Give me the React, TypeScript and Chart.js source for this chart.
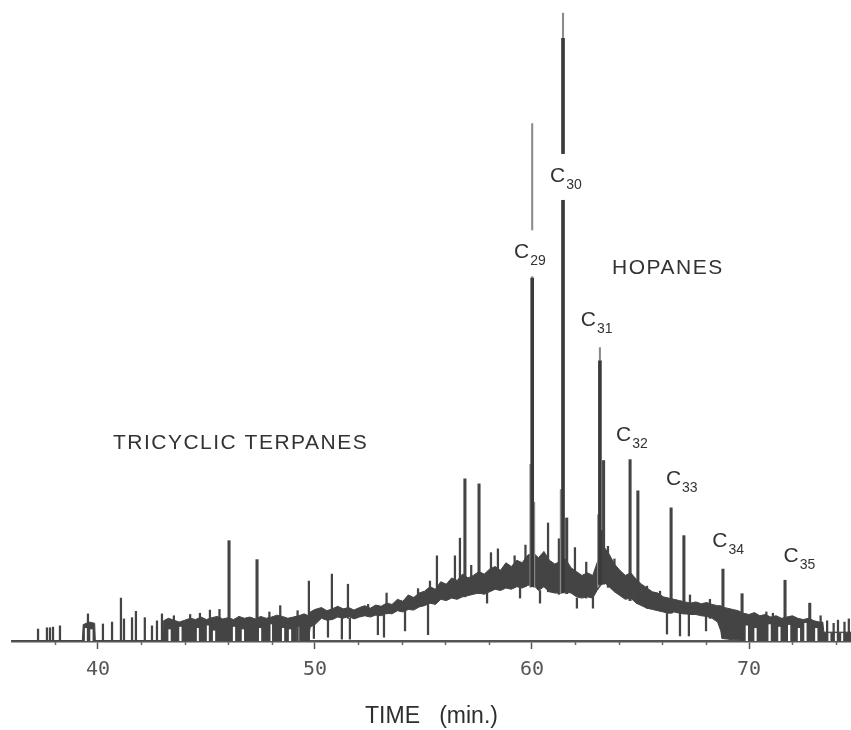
import React, { useEffect, useRef } from 'react';
import { Chart, registerables } from 'chart.js';

Chart.register(...registerables);

// ---------- data ----------
const timeMin = 36.04;
const timeMax = 74.7;

// noise band envelope (time in min, relative response 0..100)
const envTime = [36.0, 39.28, 39.32, 39.6, 39.85, 39.88, 42.98,
  43.02, 43.25, 43.5, 43.75, 44.0, 44.25, 44.5, 44.75, 45.0, 45.25, 45.5, 45.75, 46.0, 46.25, 46.5, 46.75, 47.0, 47.25, 47.5, 47.75, 48.0, 48.25, 48.5, 48.75, 49.0, 49.25, 49.5, 49.7,
  49.78, 50.0, 50.3, 50.55, 50.8, 51.05, 51.3, 51.55, 51.8, 52.05, 52.3, 52.55, 52.8, 53.05, 53.3, 53.55, 53.8, 54.05, 54.3, 54.55, 54.8, 55.05, 55.3, 55.55, 55.8, 56.05, 56.3, 56.55, 56.8, 57.05, 57.3, 57.55, 57.8, 58.05, 58.3, 58.55, 58.8, 59.05, 59.3, 59.55, 59.8, 60.05, 60.3, 60.55, 60.8, 61.05, 61.3, 61.55, 61.8, 62.05, 62.3, 62.55, 62.8, 63.0, 63.3, 63.55, 63.8, 64.05, 64.3, 64.55, 64.8, 65.05, 65.3, 65.55, 65.8, 66.05, 66.3, 66.55, 66.8, 67.05, 67.3, 67.55, 67.8, 68.05, 68.3, 68.55, 68.7, 68.75,
  69.0, 69.25, 69.5, 69.75, 70.0, 70.25, 70.5, 70.75, 71.0, 71.25, 71.5, 71.75, 72.0, 72.25, 72.5, 72.75, 73.0, 73.25, 73.4, 73.45, 74.7];
const envUpper = [0, 0, 2.6, 3.0, 2.8, 0, 0,
  3.2, 3.6, 3.3, 3.0, 3.3, 3.6, 3.4, 3.8, 3.4, 3.7, 3.9, 3.5, 3.7, 3.4, 3.9, 3.6, 3.8, 3.5, 3.9, 3.6, 3.8, 4.1, 3.9, 3.6, 3.8, 4.0, 4.3, 4.0,
  4.6, 5.0, 5.3, 4.8, 5.1, 5.5, 5.1, 5.3, 4.9, 5.3, 5.6, 5.2, 5.7, 5.5, 6.0, 5.8, 6.6, 6.3, 7.3, 6.9, 7.6, 7.9, 8.6, 8.2, 9.4, 9.0, 10.0, 9.6, 10.6, 10.0, 10.4, 11.0, 10.6, 11.4, 11.8, 11.2, 12.4, 11.8, 12.8, 12.4, 13.6, 14.0, 13.2, 14.2, 12.8, 12.2, 12.6, 13.0, 11.6, 11.0, 10.4, 10.8, 10.4, 12.4, 15.0, 13.8, 12.2, 11.2, 10.4, 10.8, 9.8, 9.0, 8.4, 7.8, 7.6, 7.0, 6.8, 6.6, 6.4, 6.2, 6.0, 6.2, 5.9, 6.1, 5.8, 5.6, 5.6, 5.4,
  5.2, 5.0, 4.8, 4.4, 4.2, 4.5, 4.0, 4.2, 3.8, 4.0, 3.6, 3.8, 4.0, 3.6, 3.4, 3.6, 3.2, 3.0, 3.0, 1.4, 1.4];
const envLower = [0, 0, 0, 0, 0, 0, 0,
  0, 0, 0, 0, 0, 0, 0, 0, 0, 0, 0, 0, 0, 0, 0, 0, 0, 0, 0, 0, 0, 0, 0, 0, 0, 0, 0, 0,
  2.2, 2.6, 3.6, 3.3, 3.4, 3.8, 3.6, 3.9, 3.5, 3.8, 4.0, 3.8, 4.1, 4.0, 4.4, 4.3, 4.8, 4.6, 5.0, 4.9, 5.4, 5.6, 6.0, 5.8, 6.6, 6.4, 6.8, 6.6, 7.0, 7.2, 7.4, 7.6, 7.4, 7.8, 8.2, 8.0, 8.4, 8.2, 8.6, 8.4, 8.8, 9.0, 8.0, 8.6, 7.8, 7.6, 7.6, 7.8, 7.6, 7.0, 6.8, 7.0, 6.8, 8.0, 9.4, 8.6, 7.8, 7.2, 6.6, 6.8, 6.0, 5.6, 5.2, 5.0, 4.8, 4.6, 4.4, 4.6, 4.4, 4.3, 4.2, 4.2, 4.0, 3.9, 3.6, 3.0, 1.6, 0.4,
  0.3, 0.2, 0.2, 0, 0, 0, 0, 0, 0, 0, 0, 0, 0, 0, 0, 0, 0, 0, 0, 0, 0];

// hopane peaks: [time, foot, solid top]
const mainPeaks: number[][] = [
  [60.01, 8.6, 57.5], // C29
  [61.43, 7.6, 95.5], // C30
  [63.13, 9.0, 44.4], // C31
];
// faint (dotted) tops and shoulders: [time, from, to]
const faintPeaks: number[][] = [
  [60.01, 57.5, 82], [61.43, 95.5, 99.5], [63.13, 44.4, 46.5],
  [59.93, 8.5, 28], [60.1, 8.5, 22], [61.33, 7.5, 24], [63.05, 8.5, 20],
];
// medium peaks: [time, foot, top]
const midPeaks: number[][] = [
  [46.04, 0, 15.9], [47.33, 0, 12.9], [56.91, 7.0, 25.7], [57.56, 7.5, 24.9],
  [61.6, 7.5, 19.5], [63.2, 9.0, 17.5], [63.3, 9.0, 28.6],
  [64.52, 6.4, 29.0], [64.88, 6.0, 23.8], [66.41, 4.4, 21.1], [67.0, 4.3, 16.7],
  [68.8, 3.0, 11.4], [69.68, 0.5, 7.5], [71.66, 0, 9.7], [72.8, 0, 6.0],
];
// small spikes and dips: [time, from, to]
const smallSpikes: number[][] = [
  [37.24, 0, 1.9], [37.65, 0, 2.1], [37.79, 0, 2.1], [37.93, 0, 2.2], [38.25, 0, 2.4],
  [39.54, 0, 4.3],
  [40.23, 0, 2.7], [40.65, 0, 3.0], [41.06, 0, 6.8], [41.2, 0, 3.5], [41.57, 0, 3.7], [41.75, 0, 4.7],
  [42.16, 0, 3.7], [42.49, 0, 2.4], [42.72, 0, 3.2], [42.95, 0, 4.3],
  [43.5, 0, 4.0], [44.25, 0, 4.2], [44.7, 0, 4.4], [45.16, 0, 4.9], [45.6, 0, 5.0],
  [47.9, 0, 4.6], [48.4, 0, 5.6], [49.2, 0, 4.8], [49.72, 0, 9.5],
  [50.78, 3.4, 10.6], [51.52, 3.6, 9.0], [52.45, 3.9, 5.8], [53.3, 4.3, 7.6], [54.75, 5.4, 8.3],
  [55.3, 6.0, 9.5], [55.62, 6.2, 13.5],
  [56.45, 6.8, 13.5], [56.68, 7.0, 16.3], [57.2, 7.4, 12.0], [58.11, 8.0, 14.0], [58.43, 8.2, 14.6],
  [59.2, 8.6, 13.5], [59.7, 8.6, 15.2], [60.74, 7.8, 18.7], [61.24, 7.4, 16.2], [61.98, 7.5, 14.8],
  [62.5, 6.8, 12.5], [63.5, 8.5, 15.0], [63.8, 8.0, 13.0],
  [65.3, 5.2, 8.7], [65.9, 4.8, 7.9], [67.28, 4.2, 7.3], [68.2, 3.6, 6.6],
  [70.8, 0, 4.6], [71.1, 0, 4.4], [73.3, 0, 4.0], [73.6, 0, 3.2], [73.9, 0, 2.8], [74.1, 0, 3.3], [74.4, 0, 3.0], [74.6, 0, 3.5],
  // dips below the band
  [49.95, 0.4, 3.0], [50.6, 0.6, 3.6], [51.24, 0.3, 3.7], [51.61, 0.3, 3.6], [52.9, 1.0, 4.0],
  [53.18, 0.6, 4.3], [54.15, 1.6, 5.0], [55.21, 1.0, 6.0], [57.93, 6.0, 7.6], [59.45, 6.8, 8.6],
  [60.37, 6.0, 8.0], [62.07, 5.2, 6.8], [62.81, 5.2, 7.0], [66.22, 1.1, 4.4], [66.82, 0.8, 4.4],
  [67.23, 0.8, 4.2], [68.02, 1.6, 4.0], [68.99, 0.5, 3.0],
];
// blank stripes inside the dense low band: [time, from, to]
const bandGaps: number[][] = [
  [39.45, 0, 2.0], [39.7, 0, 1.8],
  [43.3, 0, 1.8], [43.8, 0, 2.2], [44.61, 0, 2.0], [45.07, 0, 2.4], [45.35, 0, 1.6], [46.27, 0, 2.2],
  [46.68, 0, 1.8], [47.47, 0, 2.0], [47.97, 0, 2.6], [48.53, 0, 2.0], [48.85, 0, 1.8], [49.22, 0, 2.2],
  [69.9, 0, 2.4], [70.3, 0, 2.0], [70.95, 0, 2.6], [71.4, 0, 2.2], [71.85, 0, 2.5], [72.3, 0, 2.0],
  [72.6, 0, 2.8], [73.1, 0, 2.0], [73.7, 0, 1.2], [74.0, 0, 1.2], [74.3, 0, 1.2],
];

const majorTicks = [40, 50, 60, 70];
const minorTicks = [38, 42, 44, 46, 48, 52, 54, 56, 58, 62, 64, 66, 68, 72, 74];

const groupLabels = [
  { text: 'TRICYCLIC TERPANES', t: 40.69, v: 31.3 },
  { text: 'HOPANES', t: 63.69, v: 59.05 },
];
const peakLabels = [
  { sub: '29', t: 59.52, v: 61.6 },
  { sub: '30', t: 61.18, v: 73.7 },
  { sub: '31', t: 62.6, v: 50.8 },
  { sub: '32', t: 64.22, v: 32.6 },
  { sub: '33', t: 66.52, v: 25.6 },
  { sub: '34', t: 68.66, v: 15.8 },
  { sub: '35', t: 71.94, v: 13.5 },
];

const INK = '#444444';

const toBars = (rows: number[][]) => rows.map((r) => ({ x: r[0], y: [r[1], r[2]] }));

const labelPlugin = {
  id: 'chromLabels',
  afterDatasetsDraw(chart: any) {
    const { ctx, scales } = chart;
    const xs = scales.x;
    const ys = scales.y;
    ctx.save();
    // minor ticks
    ctx.strokeStyle = '#666';
    ctx.lineWidth = 1.5;
    const bottom = chart.chartArea.bottom;
    minorTicks.forEach((t) => {
      const px = Math.round(xs.getPixelForValue(t)) + 0.5;
      ctx.beginPath();
      ctx.moveTo(px, bottom + 1);
      ctx.lineTo(px, bottom + 4);
      ctx.stroke();
    });
    // group labels
    ctx.fillStyle = '#333';
    ctx.textBaseline = 'middle';
    ctx.textAlign = 'left';
    ctx.font = '21px "Liberation Sans", Arial, sans-serif';
    (ctx as any).letterSpacing = '1.5px';
    groupLabels.forEach((g) => {
      ctx.fillText(g.text, xs.getPixelForValue(g.t), ys.getPixelForValue(g.v));
    });
    (ctx as any).letterSpacing = '0px';
    // peak labels
    peakLabels.forEach((p) => {
      const px = xs.getPixelForValue(p.t);
      const py = ys.getPixelForValue(p.v);
      ctx.font = '21px "Liberation Sans", Arial, sans-serif';
      const cw = ctx.measureText('C').width;
      ctx.font = '14px "Liberation Sans", Arial, sans-serif';
      const sw = ctx.measureText(p.sub).width;
      ctx.fillStyle = '#ffffff';
      ctx.fillRect(px - cw / 2 - 3, py - 22, cw + sw + 8, 46);
      ctx.fillStyle = '#333';
      ctx.font = '21px "Liberation Sans", Arial, sans-serif';
      ctx.fillText('C', px - cw / 2, py);
      ctx.font = '14px "Liberation Sans", Arial, sans-serif';
      ctx.fillText(p.sub, px + cw / 2 + 1, py + 9);
    });
    ctx.restore();
  },
};

export default function App() {
  const ref = useRef<HTMLCanvasElement | null>(null);
  useEffect(() => {
    document.body.style.margin = '0';
    const canvas = ref.current;
    if (!canvas) return;
    const upper = envTime.map((t, i) => ({ x: t, y: envUpper[i] }));
    const lower = envTime.map((t, i) => ({ x: t, y: envLower[i] }));
    const chart = new Chart(canvas, {
      type: 'bar',
      data: {
        datasets: [
          {
            type: 'line',
            label: 'band upper',
            data: upper,
            borderColor: INK,
            backgroundColor: INK,
            borderWidth: 1,
            pointRadius: 0,
            tension: 0,
            fill: '+1',
            order: 6,
          } as any,
          {
            type: 'line',
            label: 'band lower',
            data: lower,
            borderColor: INK,
            backgroundColor: INK,
            borderWidth: 1,
            pointRadius: 0,
            tension: 0,
            fill: false,
            order: 6,
          } as any,
          {
            label: 'gaps',
            data: toBars(bandGaps),
            backgroundColor: '#ffffff',
            barThickness: 1.6,
            grouped: false,
            order: 5,
          } as any,
          {
            label: 'small',
            data: toBars(smallSpikes),
            backgroundColor: INK,
            barThickness: 1.6,
            grouped: false,
            order: 4,
          } as any,
          {
            label: 'mid',
            data: toBars(midPeaks),
            backgroundColor: INK,
            barThickness: 2.4,
            grouped: false,
            order: 3,
          } as any,
          {
            label: 'faint',
            data: toBars(faintPeaks),
            backgroundColor: '#8a8a8a',
            barThickness: 1.4,
            grouped: false,
            order: 2,
          } as any,
          {
            label: 'main',
            data: toBars(mainPeaks),
            backgroundColor: '#3a3a3a',
            barThickness: 3,
            grouped: false,
            order: 1,
          } as any,
        ],
      },
      options: {
        responsive: false,
        animation: false,
        layout: { padding: { left: 12, right: 0, top: 10, bottom: 0 } },
        plugins: { legend: { display: false }, tooltip: { enabled: false } },
        scales: {
          x: {
            type: 'linear',
            min: timeMin,
            max: timeMax,
            offset: false,
            afterBuildTicks: (axis: any) => {
              axis.ticks = majorTicks.map((v) => ({ value: v }));
            },
            afterFit: (axis: any) => {
              axis.height = 89;
            },
            grid: {
              display: true,
              drawOnChartArea: false,
              drawTicks: true,
              tickLength: 8,
              tickWidth: 1.5,
              tickColor: '#555',
              offset: false,
            },
            border: { display: true, color: '#555', width: 2.5 },
            ticks: {
              autoSkip: false,
              maxRotation: 0,
              padding: 9,
              color: '#555',
              font: { family: '"DejaVu Sans Mono", monospace', size: 20 },
              callback: (v: any) => String(v),
            },
            title: {
              display: true,
              text: 'TIME   (min.)',
              color: '#2e2e2e',
              font: { family: '"Liberation Sans", Arial, sans-serif', size: 23 },
              padding: { top: 0, bottom: 0 },
            },
          },
          y: {
            display: false,
            min: 0,
            max: 100,
          },
        },
      },
      plugins: [labelPlugin],
    } as any);
    return () => chart.destroy();
  }, []);
  return (
    <div style={{ width: 851, height: 730, background: '#fff' }}>
      <canvas ref={ref} width={851} height={730} style={{ display: 'block' }} />
    </div>
  );
}
